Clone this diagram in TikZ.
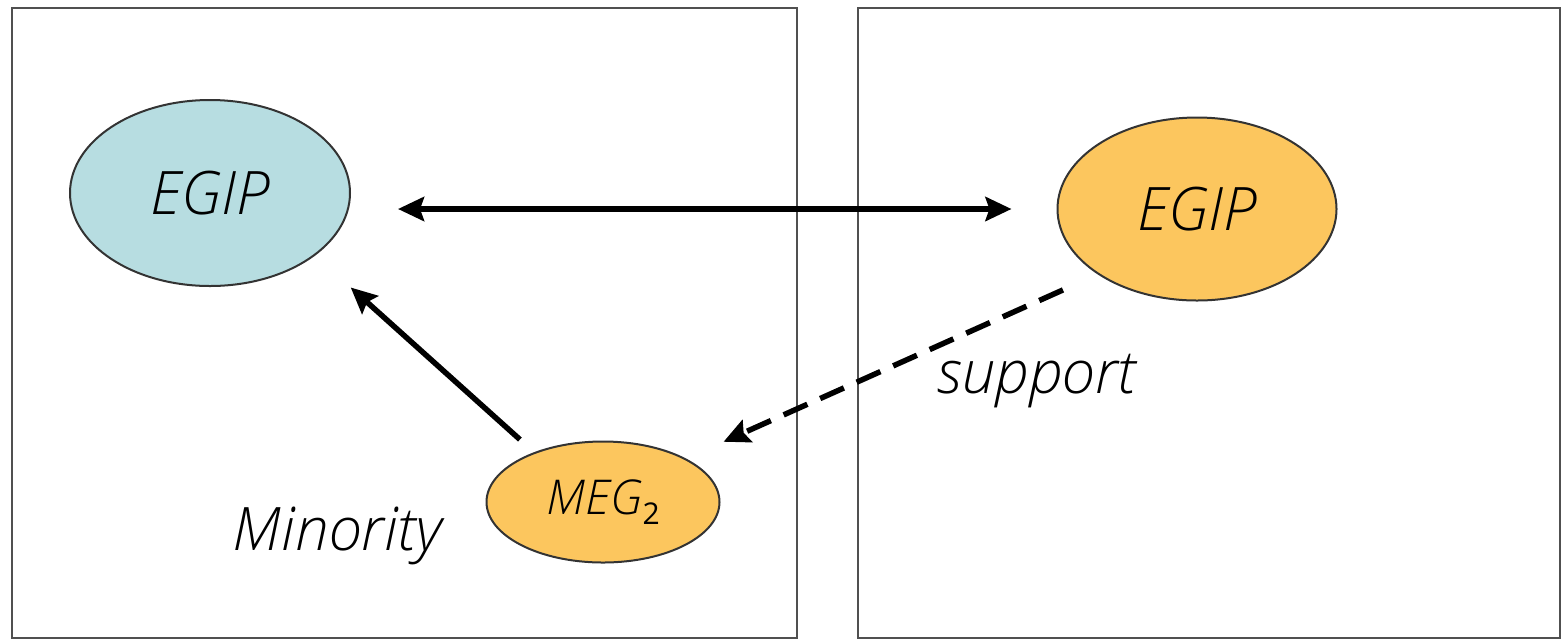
\documentclass[tikz,border=0pt]{standalone}
\usepackage{fontspec}
\setmainfont{Open Sans}[ItalicFont={Open Sans Light Italic}]
\usetikzlibrary{arrows, arrows.meta, shapes.geometric, calc, positioning}

\definecolor{egipblue}{HTML}{B7DDE1}
\definecolor{egiporange}{HTML}{FCC65E}
\definecolor{framegray}{HTML}{505050}

\newcommand{\megsub}[1]{\raisebox{-10pt}{\fontsize{30}{32}\selectfont\upshape #1}}

\begin{document}
\begin{tikzpicture}[
        x = 1pt, y = -1pt, % pixel like units
        > = {Stealth[length=26pt, width=24pt, inset=4pt]}, % arrow head style
        line width = 5.5pt, % line style
        font = \fontsize{60}{64}\selectfont\itshape
      ]

      \tikzstyle{party}=[ellipse, draw=black!80, line width=2pt, inner sep=0pt]
      \tikzstyle{tag}=[anchor=base west, inner sep=0pt]
      \tikzstyle{frame}=[draw=framegray, line width=2.5pt]

      \useasboundingbox (0,0) rectangle (1565,641);
      \draw[frame] (12,8) rectangle (797,638);
      \draw[frame] (858,8) rectangle (1560,638);

      \node[party, fill=egipblue, minimum width=280pt, minimum height=186pt] (egipL) at (210,193) {EGIP};
      \node[party, fill=egiporange, minimum width=279pt, minimum height=183pt] (egipR) at (1197,209) {EGIP};
      \node[party, fill=egiporange, minimum width=233pt, minimum height=121pt,
            font=\fontsize{48}{52}\selectfont\itshape] (meg) at (603,502) {MEG\megsub{2}};

      \node[tag] (minority) at (230,550) {Minority};
      \node[tag] (support) at (935,393) {support};

      \draw[<->, shorten <=47pt, shorten >=45pt] (egipL.east |- egipR.west) -- (egipR.west);
      \draw[->] ($(meg.north west)+(0,-19)$) -- ($(egipL.south east)+(41,28)$);
      \draw[->, dash pattern=on 26pt off 14pt, shorten <=38pt, shorten >=41pt] (egipR.south west) -- (meg.north east);

    \end{tikzpicture}
\end{document}
